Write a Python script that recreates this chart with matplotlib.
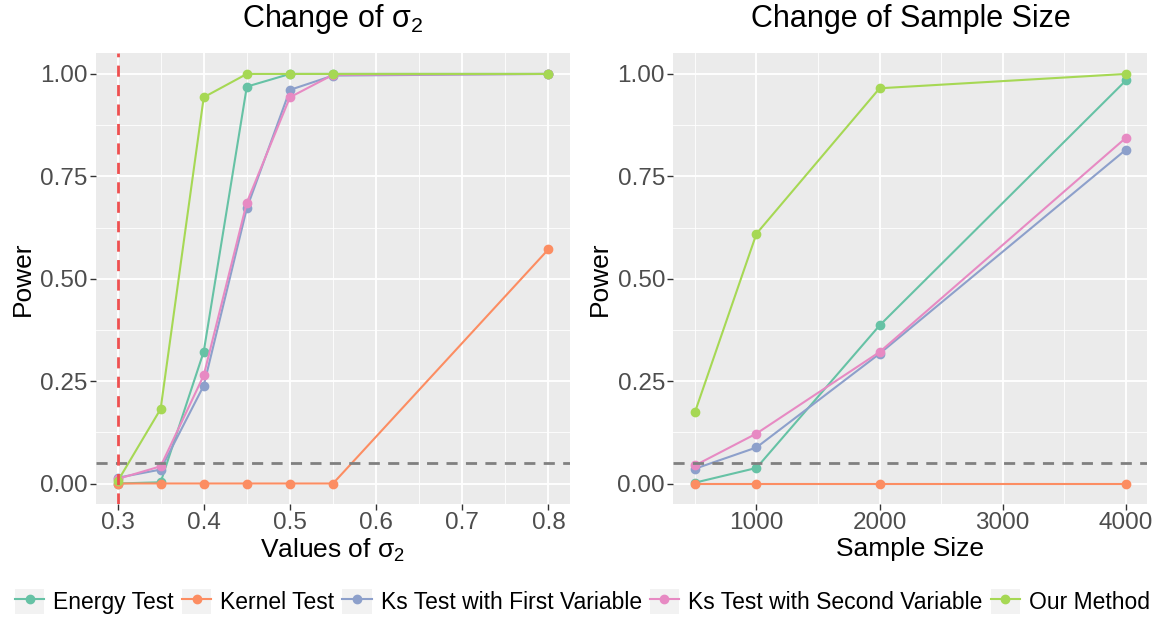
import matplotlib
matplotlib.use("Agg")
import matplotlib.pyplot as plt
from matplotlib.lines import Line2D
from matplotlib.patches import Rectangle
from matplotlib.legend_handler import HandlerTuple
import numpy as np

plt.rcParams['font.family'] = ['Liberation Sans', 'DejaVu Sans']
plt.rcParams['mathtext.fontset'] = 'custom'
plt.rcParams['mathtext.rm'] = 'Liberation Sans'

methods = ['Energy Test', 'Kernel Test', 'Ks Test with First Variable',
           'Ks Test with Second Variable', 'Our Method']
colors = ['#66C2A5', '#FC8D62', '#8DA0CB', '#E78AC3', '#A6D854']

# left panel: change of sigma_2
sigma2 = [0.3, 0.35, 0.4, 0.45, 0.5, 0.55, 0.8]
power_sigma = {
    'Energy Test': [0.0, 0.003, 0.322, 0.969, 1.0, 1.0, 1.0],
    'Kernel Test': [0.0, 0.0, 0.0, 0.0, 0.0, 0.0, 0.572],
    'Ks Test with First Variable': [0.014, 0.034, 0.239, 0.672, 0.961, 0.996, 1.0],
    'Ks Test with Second Variable': [0.011, 0.042, 0.264, 0.686, 0.943, 0.998, 1.0],
    'Our Method': [0.005, 0.182, 0.943, 1.0, 1.0, 1.0, 1.0],
}

# right panel: change of sample size
sizes = [500, 1000, 2000, 4000]
power_size = {
    'Energy Test': [0.002, 0.038, 0.386, 0.984],
    'Kernel Test': [0.0, 0.0, 0.0, 0.0],
    'Ks Test with First Variable': [0.036, 0.088, 0.317, 0.815],
    'Ks Test with Second Variable': [0.044, 0.122, 0.321, 0.844],
    'Our Method': [0.174, 0.610, 0.965, 1.0],
}

alpha_level = 0.05
true_sigma = 0.3


def gg_style(ax, xmajor, xminor, xlim):
    ax.set_facecolor('#EBEBEB')
    for s in ax.spines.values():
        s.set_visible(False)
    ax.set_xlim(xlim)
    ax.set_ylim(-0.05, 1.05)
    ax.set_xticks(xmajor)
    ax.set_xticks(xminor, minor=True)
    ax.set_yticks([0, 0.25, 0.5, 0.75, 1.0])
    ax.set_yticks([0.125, 0.375, 0.625, 0.875], minor=True)
    ax.set_yticklabels(['0.00', '0.25', '0.50', '0.75', '1.00'])
    ax.grid(which='major', color='white', lw=1.3)
    ax.grid(which='minor', color='white', lw=0.6)
    ax.set_axisbelow(True)
    ax.tick_params(which='major', length=4, width=1, color='#333333',
                   labelsize=17.5, labelcolor='#4D4D4D', pad=2)
    ax.tick_params(which='minor', length=0)
    ax.set_ylabel('Power', fontsize=19, labelpad=4)


fig = plt.figure(figsize=(11.65, 6.18), dpi=100)
ax1 = fig.add_axes([0.0824, 0.1845, 0.4069, 0.729])
ax2 = fig.add_axes([0.578, 0.1845, 0.4069, 0.729])

gg_style(ax1, [0.3, 0.4, 0.5, 0.6, 0.7, 0.8], [0.35, 0.45, 0.55, 0.65, 0.75], (0.275, 0.825))
ax1.set_xticklabels(['0.3', '0.4', '0.5', '0.6', '0.7', '0.8'])
for m, c in zip(methods, colors):
    ax1.plot(sigma2, power_sigma[m], color=c, lw=1.5, marker='o', ms=6)
ax1.axhline(alpha_level, color='#808080', ls=(0, (4, 3)), lw=2)
ax1.axvline(true_sigma, color='#EE5050', ls=(0, (4, 3)), lw=2)
ax1.set_title(r'Change of $\mathregular{\sigma_2}$', fontsize=22, pad=19)
ax1.set_xlabel(r'Values of $\mathregular{\sigma_2}$', fontsize=19, labelpad=2)

gg_style(ax2, [1000, 2000, 3000, 4000], [500, 1500, 2500, 3500], (325, 4175))
for m, c in zip(methods, colors):
    ax2.plot(sizes, power_size[m], color=c, lw=1.5, marker='o', ms=6)
ax2.axhline(alpha_level, color='#808080', ls=(0, (4, 3)), lw=2)
ax2.set_title('Change of Sample Size', fontsize=22, pad=19)
ax2.set_xlabel('Sample Size', fontsize=19, labelpad=2)

# legend keys: grey box with line + point, like ggplot
handles = [(Rectangle((0, 0), 1, 1, facecolor='#F2F2F2', edgecolor='none'),
            Line2D([], [], color=c, lw=1.5, marker='o', ms=6)) for c in colors]
leg = fig.legend(handles, methods, loc='center', ncol=5,
                 bbox_to_anchor=(0.5, 0.026), frameon=False, fontsize=16.5,
                 handlelength=1.27, handleheight=1.27, handletextpad=0.4,
                 columnspacing=0.35, borderpad=0,
                 handler_map={tuple: HandlerTuple(ndivide=1, pad=0)})

fig.savefig('out.png', dpi=100)
